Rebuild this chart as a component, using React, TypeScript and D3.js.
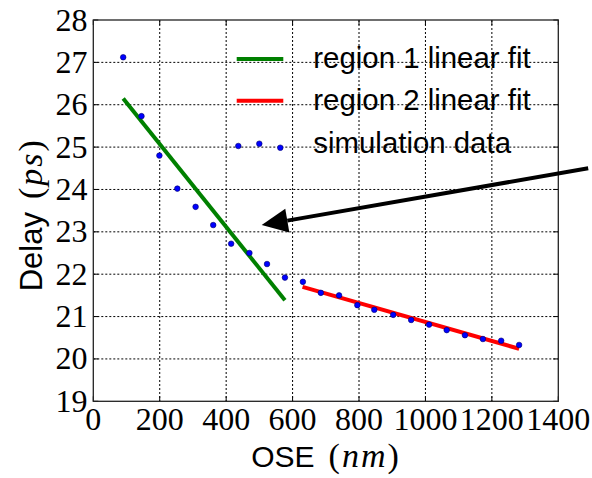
import React from "react";
import * as d3 from "d3";

const oseNm = [90, 145, 199, 253, 308, 361, 415, 470, 523, 577, 631, 685, 740, 795, 846, 903, 957, 1011, 1064, 1119, 1173, 1228, 1282];
const delayPs = [27.12, 25.73, 24.8, 24.02, 23.59, 23.16, 22.72, 22.5, 22.24, 21.92, 21.82, 21.56, 21.5, 21.27, 21.16, 21.04, 20.92, 20.81, 20.68, 20.56, 20.47, 20.43, 20.33];

const fit1X = [90, 577];
const fit1Y = [26.15, 21.385];
const fit2X = [630, 1282];
const fit2Y = [21.7, 20.24];

const xTicks = [0, 200, 400, 600, 800, 1000, 1200, 1400];
const yTicks = [19, 20, 21, 22, 23, 24, 25, 26, 27, 28];

const legendLabels = ["region 1 linear fit", "region 2 linear fit", "simulation data"];

// annotation arrow (data coordinates)
const arrowTail = [1490, 24.5];
const arrowTip = [507, 23.16];

const W = 592;
const H = 478;
const L = 93.3, R = 558.3, T = 20, B = 401.3;

const serif = "'Liberation Serif', 'Times New Roman', serif";
const sans = "'Liberation Sans', Arial, Helvetica, sans-serif";

export default function App() {
  const x = d3.scaleLinear().domain([0, 1400]).range([L, R]);
  const y = d3.scaleLinear().domain([19, 28]).range([B, T]);
  const line = d3.line<[number, number]>().x((d) => x(d[0])).y((d) => y(d[1]));

  const fit1 = fit1X.map((v, i) => [v, fit1Y[i]] as [number, number]);
  const fit2 = fit2X.map((v, i) => [v, fit2Y[i]] as [number, number]);

  // arrow geometry
  const tx = x(arrowTail[0]), ty = y(arrowTail[1]);
  const hx = x(arrowTip[0]), hy = y(arrowTip[1]);
  const ang = Math.atan2(hy - ty, hx - tx);
  const headLen = 26, headHalf = 12;
  const bx = hx - headLen * Math.cos(ang), by = hy - headLen * Math.sin(ang);
  const px = -Math.sin(ang), py = Math.cos(ang);
  const head = [
    [hx, hy],
    [bx + headHalf * px, by + headHalf * py],
    [bx - headHalf * px, by - headHalf * py],
  ];

  const legX0 = 236.7, legX1 = 283.3, legTextX = 313.3;
  const rowY = [59, 100.7, 143.7];
  const dotOffsets = [[238.3, 2.3], [259.3, 0], [280.3, 4]];

  return (
    <svg width={W} height={H} style={{ position: "absolute", left: 0, top: 0, background: "#fff" }}>
      <rect x={0} y={0} width={W} height={H} fill="#fff" />
      {/* grid */}
      <g stroke="#000" strokeWidth={1} strokeDasharray="2,2">
        {xTicks.slice(1, -1).map((t) => (
          <line key={"gx" + t} x1={x(t)} x2={x(t)} y1={T} y2={B} />
        ))}
        {yTicks.slice(1, -1).map((t) => (
          <line key={"gy" + t} x1={L} x2={R} y1={y(t)} y2={y(t)} />
        ))}
      </g>
      {/* ticks inward */}
      <g stroke="#000" strokeWidth={1}>
        {xTicks.map((t) => (
          <g key={"tx" + t}>
            <line x1={x(t)} x2={x(t)} y1={B} y2={B - 5} />
            <line x1={x(t)} x2={x(t)} y1={T} y2={T + 5} />
          </g>
        ))}
        {yTicks.map((t) => (
          <g key={"ty" + t}>
            <line x1={L} x2={L + 5} y1={y(t)} y2={y(t)} />
            <line x1={R} x2={R - 5} y1={y(t)} y2={y(t)} />
          </g>
        ))}
      </g>
      {/* fits */}
      <path d={line(fit1) || ""} stroke="#008000" strokeWidth={4} fill="none" />
      <path d={line(fit2) || ""} stroke="#ff0000" strokeWidth={4} fill="none" />
      {/* data */}
      <g>
        {oseNm.map((v, i) => (
          <circle key={i} cx={x(v)} cy={y(delayPs[i])} r={2.8} fill="#0000ff" stroke="#00006a" strokeWidth={0.6} />
        ))}
      </g>
      {/* frame */}
      <rect x={L} y={T} width={R - L} height={B - T} fill="none" stroke="#222" strokeWidth={1.3} />
      {/* legend */}
      <line x1={legX0} x2={legX1} y1={rowY[0]} y2={rowY[0]} stroke="#008000" strokeWidth={4} />
      <line x1={legX0} x2={legX1} y1={rowY[1]} y2={rowY[1]} stroke="#ff0000" strokeWidth={4} />
      {dotOffsets.map((d, i) => (
        <circle key={"ld" + i} cx={d[0]} cy={rowY[2] + d[1]} r={2.8} fill="#0000ff" stroke="#00006a" strokeWidth={0.6} />
      ))}
      {legendLabels.map((s, i) => (
        <text key={s} x={legTextX} y={rowY[i] + 9.3} fontFamily={sans} fontSize={29.4} fill="#000">
          {s}
        </text>
      ))}
      {/* arrow */}
      <line x1={tx} y1={ty} x2={bx} y2={by} stroke="#000" strokeWidth={4} />
      <polygon points={head.map((p) => p.join(",")).join(" ")} fill="#000" />
      {/* tick labels */}
      <g fontFamily={serif} fontSize={32} fill="#000">
        {yTicks.map((t) => (
          <text key={"yl" + t} x={87.5} y={y(t) + 10.5} textAnchor="end">
            {t}
          </text>
        ))}
        {xTicks.map((t) => (
          <text key={"xl" + t} x={x(t)} y={430} textAnchor="middle">
            {t}
          </text>
        ))}
      </g>
      {/* axis labels */}
      <text x={325} y={466.7} textAnchor="middle" fontSize={30} fill="#000">
        <tspan fontFamily={sans}>OSE</tspan>
        <tspan fontFamily={serif} fontSize={34} dx={14} letterSpacing={2}>(</tspan>
        <tspan fontFamily={serif} fontSize={34} fontStyle="italic" letterSpacing={2}>nm</tspan>
        <tspan fontFamily={serif} fontSize={34}>)</tspan>
      </text>
      <text transform={`translate(41.7, 215.7) rotate(-90)`} textAnchor="middle" fontSize={31} fill="#000">
        <tspan fontFamily={sans}>Delay</tspan>
        <tspan fontFamily={serif} fontSize={34} dx={13} letterSpacing={2}>(</tspan>
        <tspan fontFamily={serif} fontSize={34} fontStyle="italic" letterSpacing={2}>ps</tspan>
        <tspan fontFamily={serif} fontSize={34}>)</tspan>
      </text>
    </svg>
  );
}
